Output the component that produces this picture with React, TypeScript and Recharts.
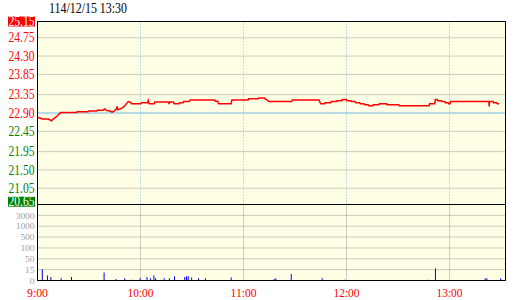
import React from 'react';
import { ComposedChart, Line, Bar, XAxis, YAxis, CartesianGrid, ReferenceLine } from 'recharts';

const titleText = '114/12/15 13:30';
const priceTicks = [20.65, 21.05, 21.5, 21.95, 22.45, 22.9, 23.35, 23.85, 24.3, 24.75, 25.15];
const refPrice = 22.9;
const limitUp = 25.15;
const limitDown = 20.65;
const timeTicks = [0, 60, 120, 180, 240];
const timeLabels = ['9:00', '10:00', '11:00', '12:00', '13:00'];
const volLevels = [0, 15, 50, 100, 500, 1000, 3000, 5000];
const volTickLabels = ['0', '15', '50', '100', '500', '1000', '3000'];
const X_MAX = 272.6;

// minutes since 9:00
const priceMinutes = [
  0, 1.9, 2.5, 6.2, 8.2, 9.1, 10.5, 12.0, 13.6, 22.7,
  23.2, 29.5, 29.9, 34.4, 34.8, 38.2, 39.2, 40.4, 42.1, 43.5,
  45.0, 46.0, 46.4, 46.8, 48.2, 49.9, 51.3, 52.8, 54.3, 54.8,
  60.2, 60.5, 64.2, 64.5, 65.1, 68.0, 68.3, 76.4, 76.7, 77.0,
  79.1, 79.6, 82.5, 82.8, 84.8, 85.1, 88.4, 88.9, 103.3, 103.6,
  105.0, 105.5, 112.8, 113.2, 122.7, 123.0, 128.5, 128.8, 132.4, 132.7,
  134.0, 135.0, 148.0, 148.4, 163.9, 164.7, 165.0, 167.4, 167.6, 170.8,
  171.1, 174.2, 174.5, 177.3, 177.5, 180.0, 180.3, 182.5, 182.8, 185.1,
  185.4, 187.7, 188.0, 190.2, 190.5, 192.6, 192.9, 195.3, 195.6, 198.8,
  199.1, 203.3, 203.6, 210.5, 210.7, 228.1, 228.4, 231.4, 231.7, 232.8,
  233.1, 235.2, 235.5, 237.3, 237.5, 239.2, 239.5, 240.3, 240.6, 262.9,
  263.1, 263.3, 265.4, 265.7, 267.5, 267.8, 268.9,
];
const priceValues = [
  22.79, 22.77, 22.75, 22.75, 22.71, 22.75, 22.79, 22.85, 22.91, 22.91,
  22.93, 22.93, 22.95, 22.95, 22.97, 22.97, 23.0, 22.96, 22.95, 22.92,
  22.96, 23.0, 23.06, 22.98, 23.0, 23.04, 23.1, 23.18, 23.16, 23.13,
  23.13, 23.15, 23.15, 23.21, 23.13, 23.13, 23.17, 23.17, 23.12, 23.17,
  23.17, 23.13, 23.13, 23.15, 23.15, 23.18, 23.18, 23.22, 23.22, 23.19,
  23.19, 23.13, 23.13, 23.22, 23.22, 23.25, 23.25, 23.27, 23.27, 23.24,
  23.21, 23.18, 23.18, 23.22, 23.22, 23.15, 23.13, 23.13, 23.15, 23.15,
  23.18, 23.18, 23.2, 23.2, 23.23, 23.23, 23.2, 23.2, 23.18, 23.18,
  23.15, 23.15, 23.13, 23.13, 23.1, 23.1, 23.08, 23.08, 23.1, 23.1,
  23.13, 23.13, 23.1, 23.1, 23.08, 23.08, 23.13, 23.13, 23.23, 23.23,
  23.2, 23.2, 23.18, 23.18, 23.15, 23.15, 23.13, 23.13, 23.18, 23.18,
  23.06, 23.18, 23.18, 23.15, 23.15, 23.13, 23.13,
];

const volMinutes = [0, 3, 6, 8, 14, 20, 39, 46, 51, 55, 60, 64, 66, 68, 69, 74, 77, 80, 86, 87, 88, 90, 94, 98, 113, 138, 139, 148, 166, 179, 228, 232, 261, 262, 270];
const volValues = [7, 16, 7, 5, 3, 5, 11, 2, 3, 1, 3, 5, 3, 7, 3, 3, 3, 6, 5, 6, 6, 4, 3, 3, 4, 2, 3, 9, 3, 1, 1, 19, 3, 3, 3];

function toLevel(v: number): number {
  for (let i = 0; i < volLevels.length - 1; i++) {
    if (v < volLevels[i + 1]) return i + (v - volLevels[i]) / (volLevels[i + 1] - volLevels[i]);
  }
  return volLevels.length - 1;
}

const priceData = priceMinutes.map((m, i) => ({ m, p: priceValues[i] }));
const volData = volMinutes.map((m, i) => ({ m, v: volValues[i], lvl: toLevel(volValues[i]) }));

const FONT = 'Liberation Serif';
const BG = '#FFFFE6';

function PriceTick(props: any) {
  const { y, payload } = props;
  const v: number = payload.value;
  const label = v.toFixed(2);
  const isUp = Math.abs(v - limitUp) < 1e-6;
  const isDown = Math.abs(v - limitDown) < 1e-6;
  const cy = isDown ? y - 2.8 : y;
  const color = v >= refPrice - 1e-6 ? '#FF0000' : '#008000';
  return (
    <g>
      {(isUp || isDown) && <rect x={8} y={cy - 5} width={27} height={10} fill={color} />}
      <text x={34.5} y={cy} dy={4.6} textAnchor="end" fontFamily={FONT} fontSize={14}
        fill={isUp || isDown ? '#FFFFFF' : color} textLength={26} lengthAdjust="spacingAndGlyphs">{label}</text>
    </g>
  );
}

function VolTick(props: any) {
  const { y, payload } = props;
  const label = volTickLabels[payload.value] ?? '';
  return (
    <text x={34.5} y={y} dy={3.2} textAnchor="end" fontFamily={FONT} fontSize={9}
      fill="#A0A0A0" textLength={label.length * 4.7} lengthAdjust="spacingAndGlyphs">{label}</text>
  );
}

function TimeTick(props: any) {
  const { x, payload } = props;
  const label = timeLabels[timeTicks.indexOf(payload.value)] ?? '';
  return (
    <text x={x} y={296.5} textAnchor="middle" fontFamily={FONT} fontSize={12}
      fill="#FF0000" textLength={label.length === 4 ? 21 : 26} lengthAdjust="spacingAndGlyphs">{label}</text>
  );
}

export default function App() {
  return (
    <div style={{ position: 'fixed', left: 0, top: 0, width: 520, height: 300, background: '#FFFFFF' }}>
      <div style={{ position: 'absolute', left: 0, top: 0 }}>
        <ComposedChart width={520} height={300} data={priceData}
          margin={{ top: 21.5, right: 14.5, bottom: 95.5, left: 0 }}>
          <CartesianGrid vertical={false} fill={BG} stroke="#999999" strokeDasharray="1 1" />
          <XAxis type="number" dataKey="m" domain={[0, X_MAX]} hide allowDataOverflow />
          <YAxis type="number" domain={[limitDown, limitUp]} ticks={priceTicks} width={37.5}
            tick={(p: any) => <PriceTick {...p} />} axisLine={false} tickLine={false} interval={0} allowDataOverflow />
          {timeTicks.slice(1).map((t) => (
            <ReferenceLine key={t} x={t} stroke="#7FB8E6" strokeDasharray="1 2" />
          ))}
          <ReferenceLine y={refPrice} stroke="#87CEFA" />
          <Line dataKey="p" type="linear" stroke="#FF0000" strokeWidth={1.5} dot={false} isAnimationActive={false} />
        </ComposedChart>
      </div>
      <div style={{ position: 'absolute', left: 0, top: 0 }}>
        <ComposedChart width={520} height={300} data={volData}
          margin={{ top: 204.5, right: 14.5, bottom: 0, left: 0 }}>
          <CartesianGrid fill={BG} stroke="#999999" strokeDasharray="1 1" />
          <XAxis type="number" dataKey="m" domain={[0, X_MAX]} ticks={timeTicks} height={19.5}
            tick={(p: any) => <TimeTick {...p} />} axisLine={false} tickLine={false} interval={0} allowDataOverflow />
          <YAxis type="number" domain={[0, 7]} ticks={[0, 1, 2, 3, 4, 5, 6]} width={37.5}
            tick={(p: any) => <VolTick {...p} />} axisLine={false} tickLine={false} interval={0} allowDataOverflow />
          <Bar dataKey="lvl" fill="#0000FF" barSize={1} isAnimationActive={false} />
        </ComposedChart>
      </div>
      <div style={{ position: 'absolute', left: 37, top: 21, width: 469, height: 260, border: '1px solid #000', boxSizing: 'border-box' }} />
      <div style={{ position: 'absolute', left: 37, top: 204, width: 469, height: 1, background: '#000' }} />
      <svg style={{ position: 'absolute', left: 0, top: 0 }} width={520} height={20}>
        <text x={49} y={12.5} fontFamily={FONT} fontSize={14} fill="#000" textLength={78} lengthAdjust="spacingAndGlyphs">{titleText}</text>
      </svg>
    </div>
  );
}
